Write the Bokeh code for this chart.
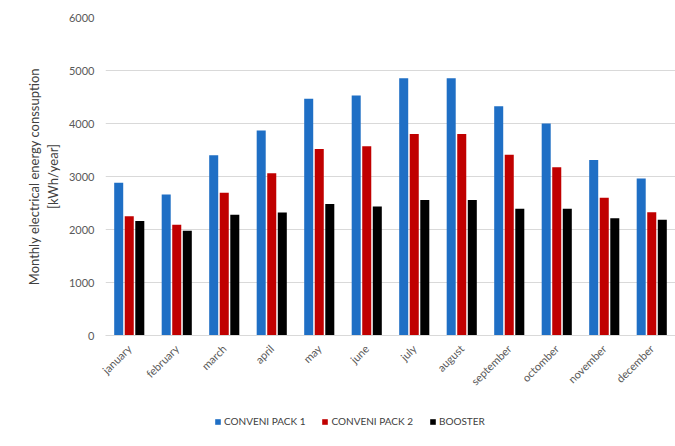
import math
from bokeh.plotting import figure
from bokeh.layouts import column
from bokeh.models import Legend, LegendItem, ColumnDataSource
from bokeh.transform import dodge
from bokeh.embed import file_html
from bokeh.resources import INLINE

months = ["january", "february", "march", "april", "may", "june", "july",
          "august", "september", "octomber", "november", "december"]
convenipack_1 = [2880, 2660, 3400, 3870, 4465, 4530, 4855, 4855, 4325, 4000, 3310, 2960]
convenipack_2 = [2250, 2090, 2695, 3060, 3520, 3570, 3800, 3800, 3410, 3175, 2600, 2325]
booster = [2160, 1975, 2280, 2320, 2480, 2435, 2555, 2555, 2390, 2390, 2210, 2185]
series_names = ["CONVENI PACK 1", "CONVENI PACK 2", "BOOSTER"]
y_ticks = [0, 1000, 2000, 3000, 4000, 5000, 6000]

FONT = "Lato"
colors = ["#1f6fc5", "#c00000", "#000000"]

src = ColumnDataSource(data=dict(month=months, cp1=convenipack_1,
                                 cp2=convenipack_2, boo=booster))

# main bar chart
fig = figure(width=675, height=400, x_range=months, y_range=(0, 6000),
             output_backend="svg", toolbar_location=None,
             min_border_left=105, min_border_right=0, min_border_top=17,
             min_border_bottom=65)

for col, off, c in zip(["cp1", "cp2", "boo"], [-0.222, 0.0, 0.222], colors):
    fig.vbar(x=dodge("month", off, range=fig.x_range), top=col, width=0.19,
             source=src, fill_color=c, line_color=None)

fig.outline_line_color = None
fig.background_fill_color = "white"
fig.border_fill_color = "white"

fig.xgrid.grid_line_color = None
fig.ygrid.grid_line_color = "#d9d9d9"
fig.ygrid.grid_line_width = 1

fig.yaxis.ticker = y_ticks
fig.yaxis.axis_line_color = None
fig.yaxis.major_tick_line_color = None
fig.yaxis.minor_tick_line_color = None
fig.yaxis.major_label_text_font = FONT
fig.yaxis.major_label_text_font_size = "11px"
fig.yaxis.major_label_text_color = "#595959"
fig.yaxis.axis_label = "Monthly electrical energy conssuption\n[kWh/year]"
fig.yaxis.axis_label_text_font = FONT
fig.yaxis.axis_label_text_font_size = "13px"
fig.yaxis.axis_label_text_font_style = "normal"
fig.yaxis.axis_label_text_color = "#404040"

fig.xaxis.axis_line_color = "#d9d9d9"
fig.xaxis.major_tick_line_color = None
fig.xaxis.minor_tick_line_color = None
fig.xaxis.major_label_orientation = math.pi / 4
fig.xaxis.major_label_text_font = FONT
fig.xaxis.major_label_text_font_size = "11px"
fig.xaxis.major_label_text_color = "#595959"

# legend strip underneath the chart
leg = figure(width=675, height=46, x_range=(0, 1), y_range=(0, 1),
             output_backend="svg", toolbar_location=None, min_border=0)
leg.axis.visible = False
leg.grid.grid_line_color = None
leg.outline_line_color = None
leg.border_fill_color = "white"

# one placeholder row (not drawn) so that each legend entry gets its swatch
placeholder = ColumnDataSource(data=dict(x=[float("nan")], top=[float("nan")]))
items = []
for name, c in zip(series_names, colors):
    r = leg.vbar(x="x", top="top", width=0.1, source=placeholder,
                 fill_color=c, line_color=None)
    items.append(LegendItem(label=name, renderers=[r]))

legend = Legend(items=items, orientation="horizontal", location=(109, 19),
                label_text_font=FONT, label_text_font_size="10px",
                label_text_color="#404040", glyph_width=7, glyph_height=7,
                label_height=10, spacing=16, label_standoff=3,
                border_line_color=None, background_fill_alpha=0,
                margin=0, padding=4)
leg.add_layout(legend, "center")

p = column(fig, leg, spacing=0)

open("out.html", "w").write(file_html(p, INLINE))
